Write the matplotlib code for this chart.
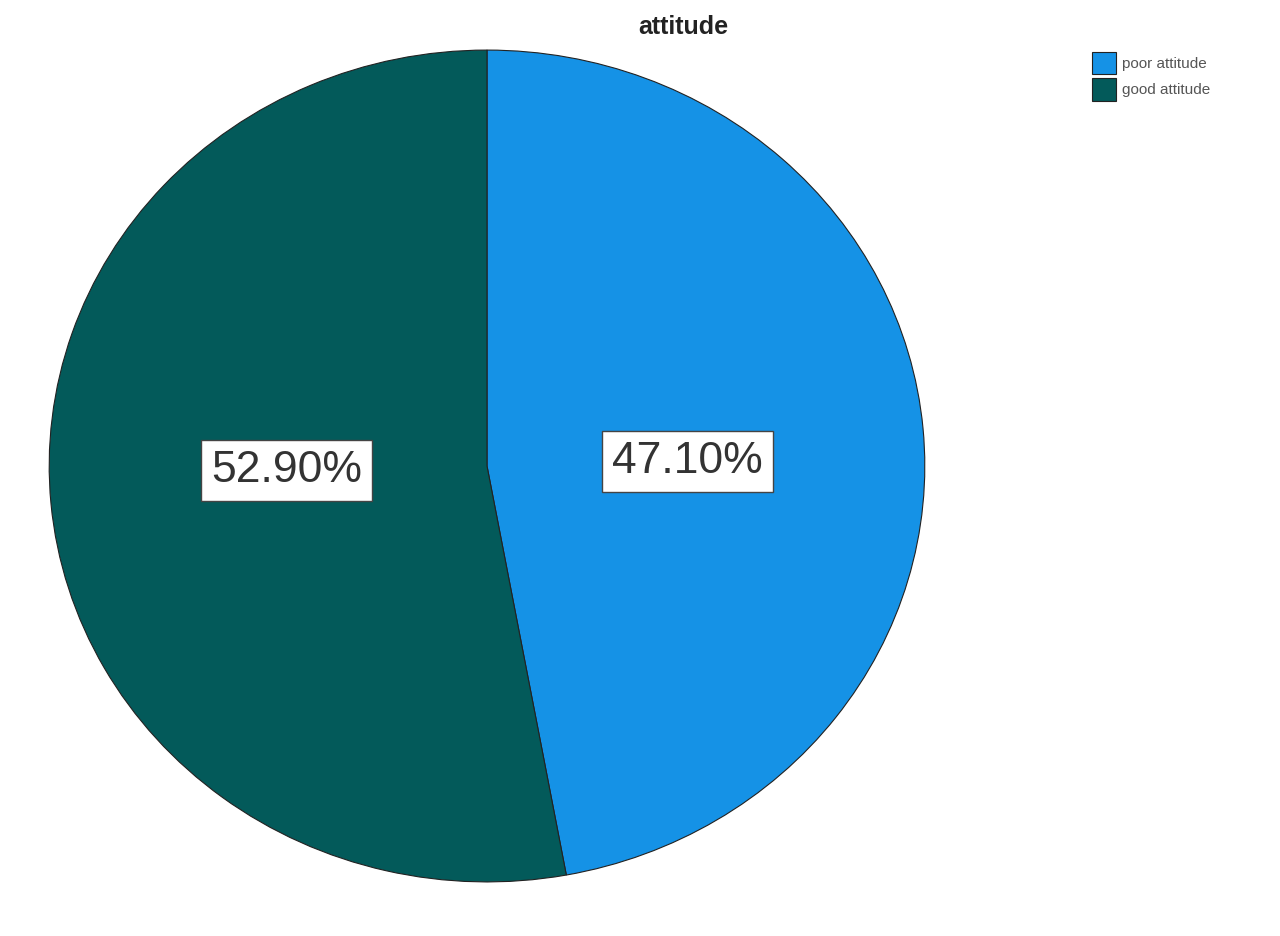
import matplotlib
matplotlib.use('Agg')
import matplotlib.pyplot as plt

## dados do grafico
labels = ['poor attitude', 'good attitude']
valores = [47.1, 52.9]
cores = ['#1592E6', '#035A5A']

plt.rcParams['font.family'] = ['Liberation Sans', 'DejaVu Sans']

fig = plt.figure(figsize=(12.8, 9.36), dpi=100)
ax = fig.add_axes([47/1280, 52/936, 880/1280, 836/936])

wedges, textos, pcts = ax.pie(valores, colors=cores, startangle=90, counterclock=False,
                              autopct='%.2f%%', pctdistance=0.46, radius=1,
                              wedgeprops={'edgecolor': '#222222', 'linewidth': 0.8})
for p in pcts:
    px, py = p.get_position()
    p.set_position((px, py * 0.25))  ## rotulos mais perto da horizontal
    p.set_fontsize(32)
    p.set_color('#333333')
    p.set_bbox(dict(facecolor='white', edgecolor='#444444', linewidth=1, boxstyle='square,pad=0.22'))

ax.set_aspect('auto')
ax.set_xlim(-1.005, 1.005)
ax.set_ylim(-1.005, 1.005)
ax.axis('off')

fig.text(683/1280, 1 - 27/936, 'attitude', ha='center', va='center', fontsize=18, fontweight='bold', color='#222222')

## legenda
fig.legend(wedges, labels, loc='upper left', bbox_to_anchor=(1081/1280, 1 - 41/936), frameon=False,
           fontsize=11, labelcolor='#555555', handlelength=1.6, handleheight=1.9, handletextpad=0.4,
           labelspacing=0.25, borderpad=0.2)

fig.savefig('out.png', dpi=100)
